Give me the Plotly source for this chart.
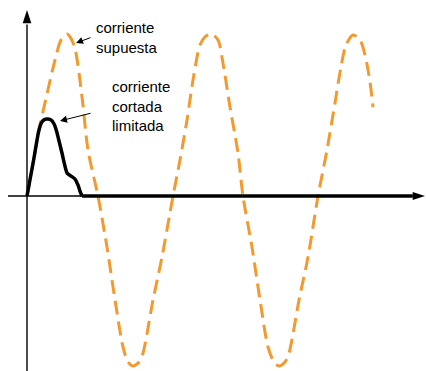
import plotly.graph_objects as go

# --- data (time in ms, current in per-unit of prospective peak) ---
prospective_t = [0, 0.9, 1.79, 2.48, 3.86, 4.69, 5.52, 6.48, 7.59, 8.41, 9.79, 11.03, 12.14, 13.24,
                 13.93, 14.62, 15.45, 16.0, 17.38, 18.62, 20.14, 21.10, 22.07, 22.90, 23.86, 24.55,
                 25.38, 26.34, 27.03, 28.0, 29.1, 29.79, 31.03, 32.14, 33.24, 34.07, 34.76,
                 35.59, 36.14, 37.52, 38.76, 40.14, 41.38, 42.48, 43.31, 44.0, 44.97, 45.93,
                 46.62, 47.31, 47.72]
prospective_i = [0, 0.215, 0.43, 0.564, 0.824, 0.945, 0.982, 0.915, 0.600, 0.279, 0, -0.309, -0.630,
                 -0.915, -1.006, -1.030, -1.006, -0.952, -0.630, -0.370, 0, 0.218, 0.461, 0.703,
                 0.915, 0.964, 0.982, 0.945, 0.806, 0.539, 0.261, 0, -0.309, -0.630, -0.915,
                 -1.006, -1.030, -1.006, -0.952, -0.630, -0.370, 0, 0.279, 0.564, 0.782, 0.915,
                 0.976, 0.945, 0.855, 0.691, 0.539]

limited_t = [0, 0.9, 1.6, 2.0, 2.45, 2.90, 3.35, 3.75, 4.1, 4.8, 5.52, 6.07, 6.62, 7.03, 7.31,
             7.59, 53.2]
limited_i = [0, 0.215, 0.39, 0.445, 0.464, 0.467, 0.460, 0.435, 0.39, 0.265, 0.139, 0.121,
             0.103, 0.067, 0.030, 0, 0]

label_prospective = "corriente<br>supuesta"
label_limited = "corriente<br>cortada<br>limitada"

# axis extents (time axis and current axis)
time_axis_t = [-2.62, 53.2]
time_axis_tip = 54.9
current_axis_i = [-1.07, 1.04]
current_axis_tip = 1.128

ORANGE = "#F29A30"
FONT = "Liberation Sans, Arial, Helvetica, sans-serif"

fig = go.Figure()

# thin horizontal axis
fig.add_trace(go.Scatter(x=time_axis_t, y=[0, 0], mode="lines",
                         line=dict(color="black", width=1.4), hoverinfo="skip"))
# vertical axis
fig.add_trace(go.Scatter(x=[0, 0], y=current_axis_i, mode="lines",
                         line=dict(color="black", width=1.4), hoverinfo="skip"))
fig.add_trace(go.Scatter(x=[0], y=[current_axis_tip], mode="markers",
                         marker=dict(symbol="arrow", size=14, angle=0, color="black",
                                     line=dict(width=0)),
                         cliponaxis=False, hoverinfo="skip"))

# prospective current (dashed orange)
fig.add_trace(go.Scatter(x=prospective_t, y=prospective_i, mode="lines",
                         line=dict(color=ORANGE, width=3, dash="14px,7px",
                                   shape="spline", smoothing=0.8),
                         hoverinfo="skip"))

# limited (cut-off) current: pulse (smoothed) then flat zero segment
fig.add_trace(go.Scatter(x=limited_t[:-1], y=limited_i[:-1], mode="lines",
                         line=dict(color="black", width=3.5, shape="spline", smoothing=0.5),
                         hoverinfo="skip"))
fig.add_trace(go.Scatter(x=limited_t[-2:], y=limited_i[-2:], mode="lines",
                         line=dict(color="black", width=3.5),
                         hoverinfo="skip"))
fig.add_trace(go.Scatter(x=[time_axis_tip], y=[0], mode="markers",
                         marker=dict(symbol="arrow", size=13, angle=90, color="black",
                                     line=dict(width=0)),
                         cliponaxis=False, hoverinfo="skip"))

annotations = [
    dict(x=9.2, y=0.962, xref="x", yref="y", text=label_prospective, showarrow=False,
         xanchor="left", yanchor="middle", align="left",
         font=dict(family=FONT, size=15, color="black")),
    dict(x=11.5, y=0.545, xref="x", yref="y", text=label_limited, showarrow=False,
         xanchor="left", yanchor="middle", align="left",
         font=dict(family=FONT, size=15, color="black")),
    dict(x=6.76, y=0.927, xref="x", yref="y", text="", showarrow=True,
         ax=16, ay=-6, arrowhead=2, arrowsize=1.4, arrowwidth=1, arrowcolor="black",
         standoff=0),
    dict(x=4.55, y=0.455, xref="x", yref="y", text="", showarrow=True,
         ax=32, ay=-8, arrowhead=2, arrowsize=1.4, arrowwidth=1, arrowcolor="black",
         standoff=0),
]

fig.update_layout(
    width=426, height=371,
    margin=dict(l=0, r=0, t=0, b=0),
    paper_bgcolor="white", plot_bgcolor="white",
    showlegend=False,
    xaxis=dict(range=[-27 / 7.25, 399 / 7.25], visible=False, fixedrange=True),
    yaxis=dict(range=[-175 / 165, 196 / 165], visible=False, fixedrange=True),
    annotations=annotations,
)

fig.write_html("out.html", config={"displayModeBar": False},
               post_script="document.body.style.margin='0';document.body.style.overflow='hidden';")
